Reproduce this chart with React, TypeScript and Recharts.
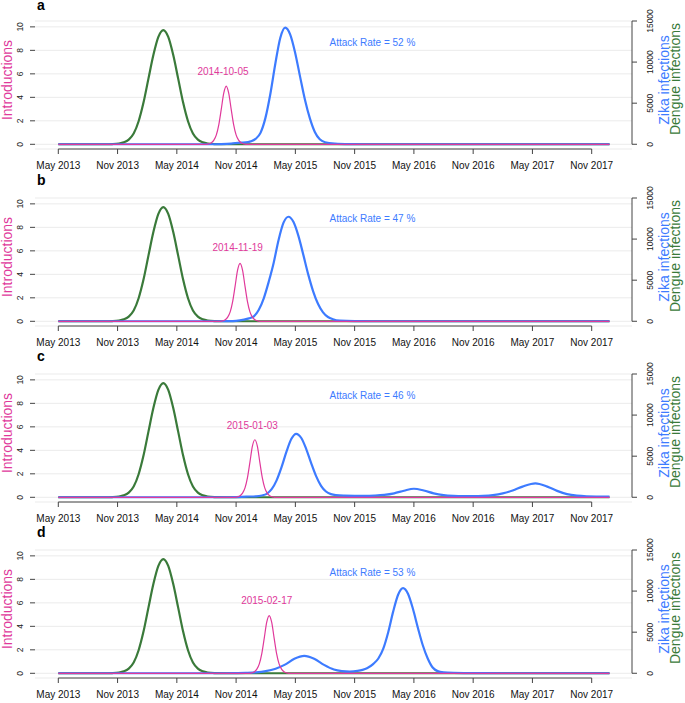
import React from 'react'
import { ComposedChart, Line, XAxis, YAxis, CartesianGrid, ReferenceLine, ReferenceDot } from 'recharts'

// months since 1 May 2013
const monthTicks = [0, 6, 12, 18, 24, 30, 36, 42, 48, 54]
const tickLabels = ['May 2013', 'Nov 2013', 'May 2014', 'Nov 2014', 'May 2015', 'Nov 2015', 'May 2016', 'Nov 2016', 'May 2017', 'Nov 2017']
const introTicks = [0, 2, 4, 6, 8, 10]
const infectionTicks = [0, 5000, 10000, 15000]

const panelLetters = ['a', 'b', 'c', 'd']
const introDates = ['2014-10-05', '2014-11-19', '2015-01-03', '2015-02-17']
const attackRates = [52, 47, 46, 53]

// dengue infections (same in every panel)
const dengue: [number, number][] = [
  [0, 0], [3.5, 0], [4.5, 5], [5.5, 30], [6.13, 90], [6.63, 230], [7.13, 560], [7.63, 1300], [8.13, 2800],
  [8.63, 5100], [9.13, 8020], [9.63, 10890], [10.13, 13070], [10.63, 13900], [11.13, 13070], [11.63, 10890],
  [12.13, 8020], [12.63, 5100], [13.13, 2800], [13.63, 1300], [14.13, 560], [14.63, 230], [15.13, 90],
  [15.8, 30], [17, 5], [18, 0], [55.8, 0],
]

// zika infections
const zikaA: [number, number][] = [
  [0, 0], [15, 0], [16.5, 30], [17.5, 90], [18.4, 200], [18.97, 220], [19.47, 350], [19.97, 650], [20.47, 1390],
  [20.97, 3210], [21.47, 6150], [21.97, 9800], [22.47, 12940], [22.97, 14200], [23.47, 13380], [23.97, 11180],
  [24.47, 8260], [24.97, 5420], [25.47, 3150], [25.97, 1500], [26.47, 600], [27, 250], [28, 80], [29.5, 15],
  [31, 0], [55.8, 0],
]
const zikaB: [number, number][] = [
  [0, 0], [16, 0], [17, 20], [18, 60], [18.8, 200], [19.3, 350], [19.8, 600], [20.3, 1400], [20.8, 2800],
  [21.3, 4800], [21.8, 7100], [22.3, 9900], [22.8, 12000], [23.3, 12720], [23.8, 12100], [24.3, 10420],
  [24.8, 8110], [25.3, 5710], [25.8, 3650], [26.3, 2100], [26.8, 1090], [27.3, 520], [27.8, 250], [28.5, 80],
  [30, 15], [32, 0], [55.8, 0],
]
const zikaC: [number, number][] = [
  [0, 0], [17, 0], [18, 30], [19, 80], [20, 120], [20.6, 220], [21.1, 420], [21.6, 980], [22.1, 2060],
  [22.6, 3670], [23.1, 5550], [23.6, 7110], [24.08, 7720], [24.6, 7210], [25.1, 5870], [25.6, 4160],
  [26.1, 2580], [26.6, 1390], [27.1, 700], [27.6, 380], [28.1, 260], [29, 200], [30, 180], [31, 180],
  [32, 210], [33, 290], [34, 480], [35, 800], [36, 1040], [37, 820], [38, 480], [39, 270], [40, 180],
  [41, 150], [42, 150], [43, 180], [44, 270], [45, 470], [46, 820], [47, 1300], [48.3, 1700], [49.5, 1300],
  [50.5, 780], [51.5, 380], [52.5, 190], [53.5, 120], [55.8, 80],
]
const zikaD: [number, number][] = [
  [0, 0], [17, 0], [18, 20], [19, 50], [20, 110], [21, 260], [22, 560], [22.9, 1020], [23.9, 1760],
  [24.9, 2110], [25.9, 1760], [26.9, 1020], [27.9, 460], [28.7, 270], [29.5, 210], [30.3, 290], [30.8, 420],
  [31.25, 620], [31.9, 1150], [32.4, 1800], [32.9, 3000], [33.4, 5000], [33.9, 7500], [34.4, 9560],
  [34.9, 10370], [35.4, 9680], [35.9, 7850], [36.4, 5550], [36.9, 3410], [37.4, 1800], [37.9, 700],
  [38.4, 260], [39, 110], [40, 50], [42, 20], [45, 0], [55.8, 0],
]

// introductions
const introA: [number, number][] = [
  [0, 0], [15, 0], [15.25, 0.04], [15.5, 0.13], [15.75, 0.35], [16, 0.8], [16.25, 1.68], [16.5, 3.0],
  [16.75, 4.35], [17, 4.95], [17.25, 4.35], [17.5, 3.0], [17.75, 1.68], [18, 0.8], [18.25, 0.35],
  [18.5, 0.13], [18.75, 0.04], [19, 0], [55.8, 0],
]
const introB: [number, number][] = [
  [0, 0], [16.4, 0], [16.65, 0.04], [16.9, 0.13], [17.15, 0.35], [17.4, 0.8], [17.65, 1.68], [17.9, 3.0],
  [18.15, 4.35], [18.4, 4.93], [18.65, 4.35], [18.9, 3.0], [19.15, 1.68], [19.4, 0.8], [19.65, 0.35],
  [19.9, 0.13], [20.15, 0.04], [20.4, 0], [55.8, 0],
]
const introC: [number, number][] = [
  [0, 0], [17.9, 0], [18.15, 0.04], [18.4, 0.13], [18.65, 0.35], [18.9, 0.8], [19.15, 1.68], [19.4, 3.0],
  [19.65, 4.35], [19.9, 4.9], [20.15, 4.35], [20.4, 3.0], [20.65, 1.68], [20.9, 0.8], [21.15, 0.35],
  [21.4, 0.13], [21.65, 0.04], [21.9, 0], [55.8, 0],
]
const introD: [number, number][] = [
  [0, 0], [19.35, 0], [19.6, 0.04], [19.85, 0.13], [20.1, 0.35], [20.35, 0.8], [20.6, 1.68], [20.85, 3.0],
  [21.1, 4.35], [21.35, 4.92], [21.6, 4.35], [21.85, 3.0], [22.1, 1.68], [22.35, 0.8], [22.6, 0.35],
  [22.85, 0.13], [23.1, 0.04], [23.35, 0], [55.8, 0],
]

const zikaSeries = [zikaA, zikaB, zikaC, zikaD]
const introSeries = [introA, introB, introC, introD]

// layout
const PANEL_TOPS = [0, 177, 353, 529]
const DATE_POS = [[16.67, 6.24], [18.16, 6.27], [19.64, 6.12], [21.1, 6.21]]
const RATE_POS = [[31.8, 8.71], [31.8, 8.77], [31.8, 8.71], [31.8, 8.61]]

const GREEN = '#3a7a3a'
const BLUE = '#3d7bff'
const PINK = '#e0399b'
const FONT = '"Liberation Sans", Arial, Helvetica, sans-serif'

const toPts = (arr: [number, number][]) => arr.map(([t, v]) => ({ t, v }))

const RotTick = (props: any) => {
  const { x, y, payload } = props
  return (
    <text x={x} y={y} transform={`rotate(-90 ${x} ${y})`} textAnchor="middle" fontSize={8.5} fill="#222" fontFamily={FONT}>
      {payload.value}
    </text>
  )
}

function Panel({ i }: { i: number }) {
  return (
    <div style={{ position: 'absolute', left: 0, top: PANEL_TOPS[i], width: 685, height: 177 }}>
      <ComposedChart width={685} height={177} margin={{ top: 21, right: 0, bottom: 0, left: 0 }}>
        <CartesianGrid yAxisId="left" vertical={false} stroke="#ebebeb" />
        <XAxis
          type="number"
          dataKey="t"
          domain={[-2.36, 58.08]}
          ticks={monthTicks}
          tickFormatter={(v: number) => tickLabels[monthTicks.indexOf(v)]}
          height={28}
          axisLine={false}
          tickLine={{ stroke: '#444' }}
          tickSize={5}
          tickMargin={8}
          interval={0}
          tick={{ fill: '#111', fontSize: 10, fontFamily: FONT }}
          allowDataOverflow
        />
        <YAxis
          yAxisId="left"
          domain={[-0.4, 10.5]}
          ticks={introTicks}
          width={35}
          axisLine={false}
          tickLine={{ stroke: '#444' }}
          tickSize={5}
          tickMargin={7}
          tick={<RotTick />}
          allowDataOverflow
        />
        <YAxis
          yAxisId="right"
          orientation="right"
          domain={[-575, 15000]}
          ticks={infectionTicks}
          width={53}
          axisLine={false}
          tickLine={{ stroke: '#444' }}
          tickSize={5}
          tickMargin={16}
          tick={<RotTick />}
          allowDataOverflow
        />
        <ReferenceLine yAxisId="left" segment={[{ x: 0, y: -0.4 }, { x: 54, y: -0.4 }]} stroke="#444" ifOverflow="visible" />
        <ReferenceLine yAxisId="right" segment={[{ x: 58.08, y: 0 }, { x: 58.08, y: 15000 }]} stroke="#444" ifOverflow="visible" />
        <Line yAxisId="right" data={toPts(dengue)} dataKey="v" type="monotone" stroke={GREEN} strokeWidth={2.2} dot={false} isAnimationActive={false} />
        <Line yAxisId="right" data={toPts(zikaSeries[i])} dataKey="v" type="monotone" stroke={BLUE} strokeWidth={2.2} dot={false} isAnimationActive={false} />
        <Line yAxisId="left" data={toPts(introSeries[i])} dataKey="v" type="monotone" stroke={PINK} strokeWidth={1.2} dot={false} isAnimationActive={false} />
        <ReferenceDot
          yAxisId="left"
          x={DATE_POS[i][0]}
          y={DATE_POS[i][1]}
          r={1}
          fill="none"
          stroke="none"
          label={{ value: introDates[i], position: 'center', fill: PINK, fontSize: 10, fontFamily: FONT }}
        />
        <ReferenceDot
          yAxisId="left"
          x={RATE_POS[i][0]}
          y={RATE_POS[i][1]}
          r={1}
          fill="none"
          stroke="none"
          label={{ value: `Attack Rate = ${attackRates[i]} %`, position: 'center', fill: BLUE, fontSize: 10, fontFamily: FONT }}
        />
      </ComposedChart>
      <svg width={685} height={177} overflow="visible" style={{ position: 'absolute', left: 0, top: 0, pointerEvents: 'none', overflow: 'visible' }}>
        <text x={37} y={i === 0 ? 10 : 8} fontSize={14} fontWeight="bold" fontFamily={FONT} fill="#000">{panelLetters[i]}</text>
        <text transform="translate(12,80) rotate(-90)" textAnchor="middle" fontSize={14} fontFamily={FONT} fill={PINK}>Introductions</text>
        <text transform="translate(669,80) rotate(-90)" textAnchor="middle" fontSize={14} fontFamily={FONT} fill={BLUE}>Zika infections</text>
        <text transform="translate(680,79) rotate(-90)" textAnchor="middle" fontSize={14} fontFamily={FONT} fill={GREEN}>Dengue infections</text>
      </svg>
    </div>
  )
}

export default function App() {
  return (
    <div style={{ position: 'absolute', left: 0, top: 0, width: 685, height: 703, background: '#fff' }}>
      {[0, 1, 2, 3].map((i) => <Panel key={i} i={i} />)}
    </div>
  )
}
